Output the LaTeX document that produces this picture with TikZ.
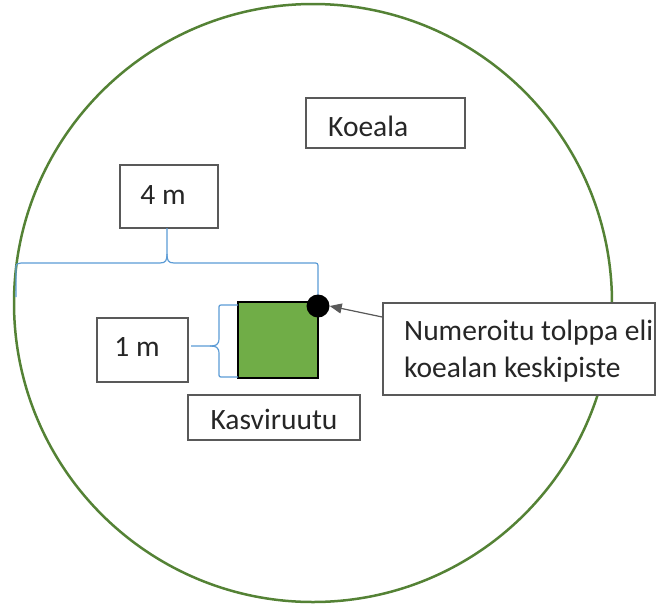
\documentclass[tikz,border=0pt]{standalone}
\usepackage{fontspec}
\setmainfont{Carlito}
\usetikzlibrary{arrows.meta}
\definecolor{circgreen}{HTML}{548235}
\definecolor{sqgreen}{HTML}{70AD47}
\definecolor{braceblue}{HTML}{5B9BD5}
\definecolor{boxgrey}{HTML}{595959}
\tikzset{
  lbl/.style={draw=boxgrey, line width=1.5pt, fill=white, inner sep=0pt},
  lbltext/.style={font=\fontsize{29.5}{36}\selectfont, text=black!85, inner sep=0pt},
  bracel/.style={draw=braceblue, line width=1.2pt},
}
\begin{document}
\begin{tikzpicture}[x=1pt,y=-1pt]
\useasboundingbox (0,0) rectangle (667,606);
% koeala circle
\node[circle, draw=circgreen, line width=2.5pt, minimum size=598pt, inner sep=0pt] (plot) at (313,303) {};
% labels
\node[lbl, minimum width=159pt, minimum height=50pt] (koeala) at (385.5,123) {};
\node[anchor=west, lbltext] (koealat) at (328,126) {Koeala};
\node[lbl, minimum width=98pt, minimum height=63pt] (four) at (169,196.5) {};
\node[lbltext] (fourt) at (163,195) {4 m};
\node[lbl, minimum width=91pt, minimum height=64pt] (one) at (142.5,350) {};
\node[lbltext] (onet) at (137,347) {1 m};
\node[lbl, minimum width=172pt, minimum height=45pt] (kasvi) at (274,417.5) {};
\node[lbltext] (kasvit) at (274,419) {Kasviruutu};
\node[lbl, minimum width=272pt, minimum height=92pt] (numero) at (519,349) {};
\node[anchor=west, align=left, lbltext, font=\fontsize{29.5}{37}\selectfont] (numerot) at (404,351) {Numeroitu tolppa eli\\koealan keskipiste};
% green square
\node[draw=black, line width=2pt, fill=sqgreen, minimum width=80pt, minimum height=76pt, inner sep=0pt] (square) at (278,340) {};
% braces
\coordinate (bl) at (16,297);
\coordinate (br) at (318,297);
\coordinate (bt) at (167,228);
\draw[bracel] (bl) -- (16,268) .. controls (16,264) .. (21,263) -- (160,263) .. controls (166,263) and (167,260) .. (167,254) -- (bt);
\draw[bracel] (167,254) .. controls (167,260) and (168,263) .. (174,263) -- (313,263) .. controls (318,263) .. (318,268) -- (br);
\coordinate (vt) at (238,305);
\coordinate (vb) at (238,377);
\coordinate (vm) at (191,346);
\draw[bracel] (vt) -- (223,305) .. controls (219,305) .. (219,309) -- (219,338) .. controls (219,345) and (216,346) .. (210,346) -- (vm);
\draw[bracel] (210,346) .. controls (216,346) and (219,347) .. (219,354) -- (219,373) .. controls (219,377) .. (223,377) -- (vb);
% center post
\node[circle, fill=black, minimum size=23pt, inner sep=0pt] (post) at (318,306) {};
% arrow
\draw[-{Triangle[length=12pt,width=10pt]}, draw=boxgrey, fill=black, line width=1.2pt] (numero.west |- 0,317) -- (post.east);
\end{tikzpicture}
\end{document}
